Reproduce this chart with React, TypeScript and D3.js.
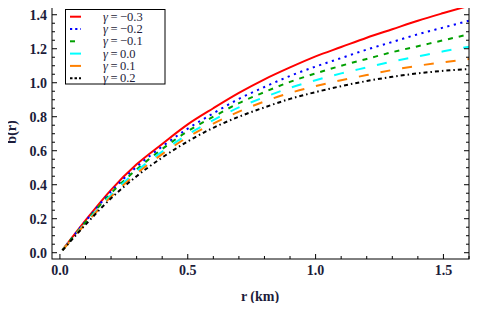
import React, { useEffect, useRef } from 'react'
import * as d3 from 'd3'

// radius grid (km)
const radii = [0.01, 0.1, 0.2, 0.3, 0.4, 0.5, 0.6, 0.7, 0.8, 0.9, 1.0, 1.1, 1.2, 1.3, 1.4, 1.5, 1.6]

// b(r) for each gamma
const bGm03 = [0.016, 0.19, 0.37, 0.52, 0.64, 0.755, 0.85, 0.94, 1.02, 1.09, 1.155, 1.21, 1.265, 1.315, 1.365, 1.41, 1.453]
const bGm02 = [0.016, 0.185, 0.36, 0.505, 0.625, 0.73, 0.82, 0.905, 0.975, 1.04, 1.095, 1.145, 1.195, 1.24, 1.285, 1.325, 1.365]
const bGm01 = [0.016, 0.18, 0.35, 0.49, 0.61, 0.715, 0.8, 0.88, 0.945, 1.005, 1.055, 1.1, 1.14, 1.18, 1.215, 1.25, 1.285]
const bG00 = [0.015, 0.175, 0.34, 0.48, 0.595, 0.695, 0.78, 0.855, 0.915, 0.97, 1.015, 1.055, 1.09, 1.125, 1.155, 1.185, 1.212]
const bG01 = [0.015, 0.17, 0.33, 0.465, 0.58, 0.68, 0.76, 0.83, 0.89, 0.94, 0.98, 1.015, 1.045, 1.075, 1.1, 1.12, 1.139]
const bG02 = [0.014, 0.165, 0.32, 0.45, 0.56, 0.655, 0.735, 0.8, 0.855, 0.905, 0.945, 0.98, 1.01, 1.035, 1.055, 1.07, 1.081]

const gammaLabels = ['\u22120.3', '\u22120.2', '\u22120.1', '0.0', '0.1', '0.2']
const xTicks = [0.0, 0.5, 1.0, 1.5]
const yTicks = [0.0, 0.2, 0.4, 0.6, 0.8, 1.0, 1.2, 1.4]

const series = [
  { values: bGm03, color: '#ff0000', dash: null, legDash: null },
  { values: bGm02, color: '#0000ff', dash: '2.2,4.5', legDash: '2.2,3' },
  { values: bGm01, color: '#00a000', dash: '5,6', legDash: '5,6' },
  { values: bG00, color: '#00ffff', dash: '10,12', legDash: null },
  { values: bG01, color: '#ff8000', dash: '10,12', legDash: null },
  { values: bG02, color: '#000000', dash: '4,3,1.5,3', legDash: '2.5,2,2.5,2' },
]

const W = 500, H = 311
const L = 52, R = 469, T = 2, B = 259
const TXT = '#1c1c3a'
const FONT = 'Liberation Serif'

export default function App() {
  const ref = useRef<SVGSVGElement>(null)

  useEffect(() => {
    const svg = d3.select(ref.current)
    svg.selectAll('*').remove()

    const x = d3.scaleLinear().domain([-0.031, 1.6]).range([L, R])
    const y = d3.scaleLinear().domain([-0.037, 1.475]).range([B, T])

    // curves
    const line = d3.line<number>()
      .x((d, i) => x(radii[i]))
      .y(d => y(d))
      .curve(d3.curveMonotoneX)

    series.forEach(s => {
      svg.append('path')
        .attr('d', line(s.values))
        .attr('fill', 'none')
        .attr('stroke', s.color)
        .attr('stroke-width', 2)
        .attr('stroke-dasharray', s.dash)
    })

    // frame
    svg.append('rect')
      .attr('x', L).attr('y', T)
      .attr('width', R - L).attr('height', B - T)
      .attr('fill', 'none').attr('stroke', '#000').attr('stroke-width', 1)

    // ticks, all four sides, pointing in
    const xMinor = d3.range(0, 1.61, 0.1)
    const yMinor = d3.range(0, 1.46, 0.05)
    xMinor.forEach(v => {
      const major = xTicks.some(t => Math.abs(t - v) < 1e-6)
      const len = major ? 5 : 3
      svg.append('line').attr('x1', x(v)).attr('x2', x(v)).attr('y1', B).attr('y2', B - len).attr('stroke', '#000')
      svg.append('line').attr('x1', x(v)).attr('x2', x(v)).attr('y1', T).attr('y2', T + len).attr('stroke', '#000')
    })
    yMinor.forEach(v => {
      const major = yTicks.some(t => Math.abs(t - v) < 1e-6)
      const len = major ? 5 : 3
      svg.append('line').attr('y1', y(v)).attr('y2', y(v)).attr('x1', L).attr('x2', L + len).attr('stroke', '#000')
      svg.append('line').attr('y1', y(v)).attr('y2', y(v)).attr('x1', R).attr('x2', R - len).attr('stroke', '#000')
    })

    // tick labels
    svg.selectAll('.xl').data(xTicks).enter().append('text')
      .attr('x', d => x(d)).attr('y', 275)
      .attr('text-anchor', 'middle')
      .attr('font-family', FONT).attr('font-weight', 'bold').attr('font-size', 14)
      .attr('fill', TXT)
      .text(d => d.toFixed(1))

    svg.selectAll('.yl').data(yTicks).enter().append('text')
      .attr('x', 47).attr('y', d => y(d) + 5)
      .attr('text-anchor', 'end')
      .attr('font-family', FONT).attr('font-weight', 'bold').attr('font-size', 14)
      .attr('fill', TXT)
      .text(d => d.toFixed(1))

    // axis titles
    svg.append('text')
      .attr('x', 260).attr('y', 301)
      .attr('text-anchor', 'middle')
      .attr('font-family', FONT).attr('font-weight', 'bold').attr('font-size', 14)
      .attr('fill', TXT)
      .text('r (km)')

    svg.append('text')
      .attr('transform', 'translate(16,132) rotate(-90)')
      .attr('text-anchor', 'middle')
      .attr('font-family', FONT).attr('font-weight', 'bold').attr('font-size', 14)
      .attr('fill', TXT)
      .text('b(r)')

    // legend
    const lg = svg.append('g')
    lg.append('rect')
      .attr('x', 65.5).attr('y', 9.5).attr('width', 99.5).attr('height', 74.5)
      .attr('fill', '#fff').attr('stroke', '#000').attr('stroke-width', 1)
    series.forEach((s, i) => {
      const cy = 16.7 + i * 12.3
      lg.append('line')
        .attr('x1', 70).attr('x2', 81).attr('y1', cy).attr('y2', cy)
        .attr('stroke', s.color).attr('stroke-width', 2)
        .attr('stroke-dasharray', s.legDash)
      const t = lg.append('text')
        .attr('x', 103).attr('y', cy + 4)
        .attr('font-family', FONT).attr('font-size', 12.5)
        .attr('fill', TXT)
      t.append('tspan').attr('font-style', 'italic').text('\u03b3')
      t.append('tspan').text('\u2009=\u2009' + gammaLabels[i])
    })
  }, [])

  return <svg ref={ref} width={W} height={H} style={{ display: 'block', margin: '-8px' }} />
}
